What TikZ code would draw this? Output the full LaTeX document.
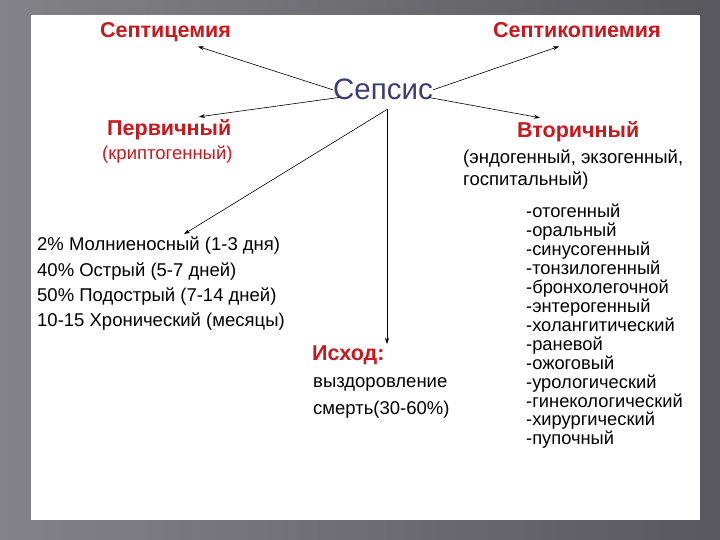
\documentclass[tikz,border=0pt]{standalone}
\usepackage{fontspec}
\setmainfont{Liberation Sans}
\usetikzlibrary{arrows.meta}

\definecolor{slidered}{RGB}{200,25,30}
\definecolor{sepsisblue}{RGB}{60,60,120}
\definecolor{bgleft}{RGB}{130,130,135}
\definecolor{bgright}{RGB}{88,88,93}

\tikzset{
  title/.style={anchor=base west,inner sep=0pt,text=slidered,
    font=\fontsize{21.5}{24}\selectfont\bfseries},
  body/.style={anchor=base west,inner sep=0pt,font=\fontsize{18.5}{22}\selectfont},
  srcitem/.style={anchor=base west,inner sep=0pt,font=\fontsize{18.3}{19}\selectfont},
  link/.style={-{Stealth[length=6pt,width=4pt]},line width=0.6pt}
}

\begin{document}
\begin{tikzpicture}[x=1pt,y=-1pt]
  \useasboundingbox (0,0) rectangle (720,540);
  \shade[left color=bgleft,right color=bgright] (0,0) rectangle (720,540);
  \fill[white] (31,15) rectangle (700,520);

  % centre and the four kinds
  \node[anchor=base,inner sep=0pt,text=sepsisblue,font=\fontsize{29.5}{32}\selectfont]
    (sepsis) at (383,100) {Сепсис};
  \node[title] (septicemia) at (100,38) {Септицемия};
  \node[title] (septicopyemia) at (493,38) {Септикопиемия};
  \node[title] (primary) at (107,136) {Первичный};
  \node[body,text=slidered] (crypto) at (102,160) {(криптогенный)};
  \node[title] (secondary) at (517,138) {Вторичный};
  \node[body] (origin1) at (463,164) {(эндогенный, экзогенный,};
  \node[body] (origin2) at (463,186) {госпитальный)};

  % course
  \node[body] (form1) at (37,251) {2\% Молниеносный (1-3 дня)};
  \node[body] (form2) at (37,276) {40\% Острый (5-7 дней)};
  \node[body] (form3) at (37,301) {50\% Подострый (7-14 дней)};
  \node[body] (form4) at (37,326) {10-15 Хронический (месяцы)};

  % outcome
  \node[title] (outcome) at (312,360) {Исход:};
  \node[body] (recovery) at (313,387) {выздоровление};
  \node[body] (death) at (313,414) {смерть(30-60\%)};

  % sources of the secondary form
  \foreach \src [count=\i] in {отогенный,оральный,синусогенный,тонзилогенный,
      бронхолегочной,энтерогенный,холангитический,раневой,ожоговый,
      урологический,гинекологический,хирургический,пупочный}
    \node[srcitem] (src\i) at (526,{218+18.9*(\i-1)}) {-\src};

  \begin{scope}[link]
    \draw (sepsis.west) -- ([xshift=98pt,yshift=-4pt]septicemia.south west);
    \draw (sepsis.east) -- ([xshift=66pt,yshift=-8pt]septicopyemia.south west);
    \draw ([xshift=6pt,yshift=3pt]sepsis.south west) -- ([xshift=92pt,yshift=3pt]primary.north west);
    \draw ([xshift=-4pt,yshift=3pt]sepsis.south east) -- ([xshift=23pt,yshift=4pt]secondary.north west);
    \draw ([xshift=4pt,yshift=-9pt]sepsis.south) -- ([xshift=147pt,yshift=3pt]form1.north west);
    \draw ([xshift=4pt,yshift=-9pt]sepsis.south) -- ([xshift=75pt,yshift=1pt]outcome.north west);
  \end{scope}
\end{tikzpicture}
\end{document}
